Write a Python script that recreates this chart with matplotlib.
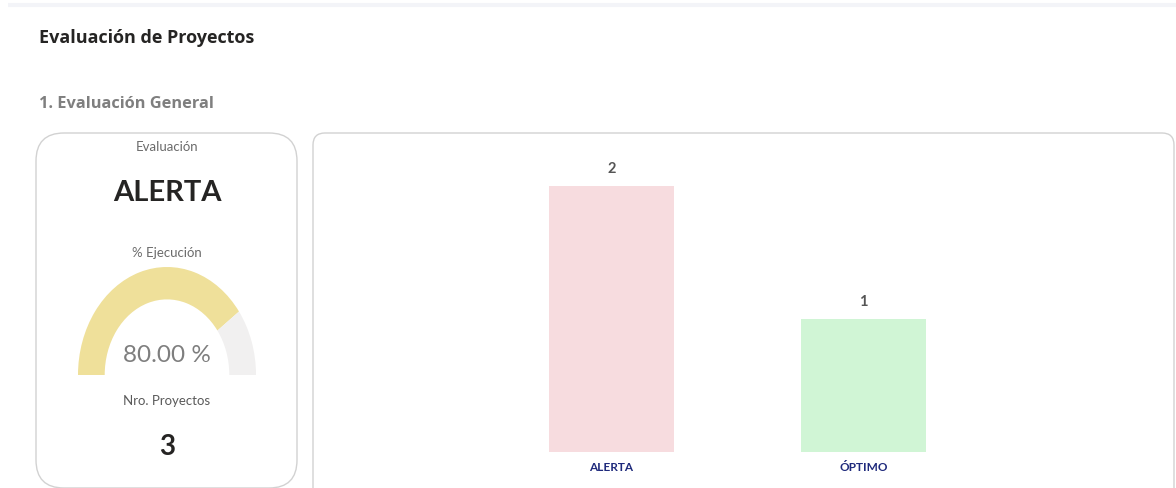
import matplotlib
matplotlib.use("Agg")
import matplotlib.pyplot as plt
from matplotlib import font_manager
from matplotlib.patches import FancyBboxPatch, Wedge

# data
categories = ["ALERTA", "ÓPTIMO"]
counts = [2, 1]
bar_colors = ["#F7DCDF", "#D0F5D5"]
evaluacion = "ALERTA"
ejecucion_pct = 80.0
nro_proyectos = 3

# fonts: use a narrow face if one is around
names = {f.name for f in font_manager.fontManager.ttflist}
narrow = next((f for f in ["Liberation Sans Narrow", "Lato", "Open Sans"] if f in names), "DejaVu Sans")
head = "Open Sans" if "Open Sans" in names else "DejaVu Sans"

W, H = 1176, 488
fig = plt.figure(figsize=(W / 100, H / 100), dpi=100)

# background canvas in pixel coords
bg = fig.add_axes([0, 0, 1, 1], zorder=0)
bg.set_xlim(0, W)
bg.set_ylim(H, 0)
bg.axis("off")

bg.plot([8, W], [5, 5], color="#F3F4F8", lw=3, solid_capstyle="butt")
bg.text(39, 38, "Evaluación de Proyectos", fontsize=13, fontweight="bold",
        family=head, color="#252423", va="center", ha="left")
bg.text(39, 104, "1. Evaluación General", fontsize=11.8, fontweight="bold",
        family=head, color="#7F7F7F", va="center", ha="left")

# cards
bg.add_patch(FancyBboxPatch((36, 133), 261, 355, boxstyle="round,pad=0,rounding_size=28",
                            fc="white", ec="#D2D2D2", lw=1.0))
bg.add_patch(FancyBboxPatch((313, 133), 861, 370, boxstyle="round,pad=0,rounding_size=12",
                            fc="white", ec="#D2D2D2", lw=1.0))

# left card texts
cx = 167
bg.text(cx, 147, "Evaluación", fontsize=9.5, family=narrow, color="#6B6B6B", ha="center", va="center")
bg.text(cx, 193, evaluacion, fontsize=21, fontweight="bold", family=narrow, color="#252423",
        ha="center", va="center")
bg.text(cx, 253, "% Ejecución", fontsize=9.5, family=narrow, color="#6B6B6B", ha="center", va="center")
bg.text(cx, 356, f"{ejecucion_pct:.2f} %", fontsize=17.5, fontweight="normal", family=narrow,
        color="#7E7E7E", ha="center", va="center")
bg.text(cx, 401, "Nro. Proyectos", fontsize=9.5, family=narrow, color="#5A5A5A", ha="center", va="center")
bg.text(cx, 447, str(nro_proyectos), fontsize=20, fontweight="bold", family=narrow,
        color="#252423", ha="center", va="center")

# gauge
gx = fig.add_axes([78 / W, (H - 375) / H, 178 / W, 108 / H], zorder=2)
gx.set_xlim(-1, 1)
gx.set_ylim(0, 1)
gx.axis("off")
split = 180 - 180 * ejecucion_pct / 100
gx.add_patch(Wedge((0, 0), 1, split, 180, width=0.3, fc="#EFE09A", ec="none"))
gx.add_patch(Wedge((0, 0), 1, 0, split, width=0.3, fc="#F1F0F0", ec="none"))

# bar chart
ax = fig.add_axes([359.5 / W, (H - 452) / H, 756 / W, 292.6 / H], zorder=2)
ax.patch.set_alpha(0)
x = range(len(categories))
bars = ax.bar(x, counts, width=0.496, color=bar_colors)
ax.set_xlim(-1, 2)
ax.set_ylim(0, 2.2)
for b, v in zip(bars, counts):
    ax.annotate(str(v), (b.get_x() + b.get_width() / 2, v), xytext=(0, 7),
                textcoords="offset points", ha="center", va="bottom",
                fontsize=10.5, fontweight="bold", family=narrow, color="#555555")
ax.set_xticks(list(x))
ax.set_xticklabels(categories, fontsize=8.5, fontweight="bold", family=narrow, color="#1F2A7C")
ax.tick_params(axis="x", length=0, pad=7)
ax.set_yticks([])
for s in ax.spines.values():
    s.set_visible(False)

fig.savefig("out.png", dpi=100)
